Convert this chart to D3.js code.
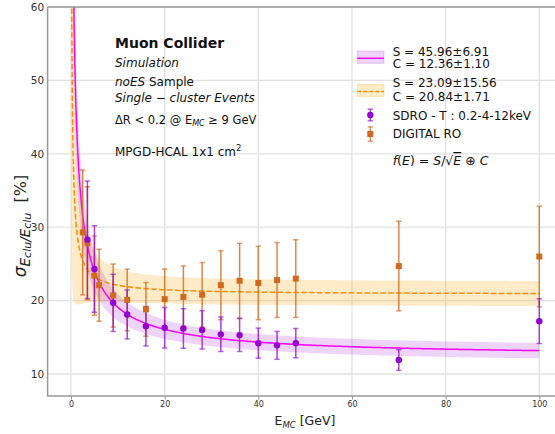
<!DOCTYPE html>
<html>
<head>
<meta charset="utf-8">
<script src="https://cdn.jsdelivr.net/npm/d3@7"></script>
<style>
body { margin: 0; background: #fff; }
text { font-family: "DejaVu Sans", sans-serif; }
</style>
</head>
<body>
<div id="chart-area"></div>
<script>
// SDRO - T (purple points)
var sdroEnergy = [3.5, 5, 9, 12, 16, 20, 24, 28, 32, 36, 40, 44, 48, 70, 100];
var sdroRes    = [28.3, 24.3, 19.7, 18.1, 16.5, 16.3, 16.2, 16.0, 15.4, 15.3, 14.2, 13.9, 14.2, 11.9, 17.2];
var sdroErr    = [8.0, 5.9, 3.9, 3.35, 2.7, 2.75, 2.7, 2.6, 2.35, 2.25, 2.05, 1.9, 2.0, 1.4, 3.05];

// DIGITAL RO (orange squares)
var digEnergy = [2.5, 3.5, 5, 6, 9, 12, 16, 20, 24, 28, 32, 36, 40, 44, 48, 70, 100];
var digRes    = [29.3, 27.8, 23.4, 22.1, 20.7, 20.1, 18.8, 20.2, 20.5, 20.8, 22.1, 22.7, 22.4, 22.8, 23.0, 24.7, 26.0];
var digErr    = [8.5, 7.7, 5.4, 4.9, 4.3, 4.2, 3.65, 4.1, 4.2, 4.4, 4.7, 5.1, 5.0, 5.1, 5.3, 6.1, 6.85];

// fit results  f(E) = S/sqrt(E) (+) C   [sdro, digital]
var fitS    = [45.96, 23.09];
var fitSErr = [6.91, 15.56];
var fitC    = [12.36, 20.84];
var fitCErr = [1.10, 1.71];

var xTicks = [0, 20, 40, 60, 80, 100];
var yTicks = [10, 20, 30, 40, 50, 60];

var svg = d3.select("#chart-area")
    .append("svg")
    .attr("width", 555)
    .attr("height", 434);

var pLeft = 47.6, pRight = 562.7, pTop = 7, pBottom = 396;

var x = d3.scaleLinear().domain([-5, 105]).range([pLeft, pRight]);
var y = d3.scaleLinear().domain([7, 60]).range([pBottom, pTop]);

svg.append("clipPath").attr("id", "plotclip")
    .append("rect")
    .attr("x", pLeft).attr("y", pTop)
    .attr("width", pRight - pLeft).attr("height", pBottom - pTop);

// grid
var grid = svg.append("g");
grid.selectAll(".vg").data(xTicks).enter().append("line")
    .attr("x1", d => x(d)).attr("x2", d => x(d))
    .attr("y1", pTop).attr("y2", pBottom)
    .attr("stroke", "#e1e1e1").attr("stroke-width", 1.3);
grid.selectAll(".hg").data(yTicks).enter().append("line")
    .attr("x1", pLeft).attr("x2", pRight)
    .attr("y1", d => y(d)).attr("y2", d => y(d))
    .attr("stroke", "#e1e1e1").attr("stroke-width", 1.3);

// fit curves + bands
function fitVal(E, S, C) { return Math.sqrt(S * S / E + C * C); }
function fitErr(E, S, dS, C, dC) {
    return Math.sqrt(Math.pow(S * dS / E, 2) + Math.pow(C * dC, 2)) / fitVal(E, S, C);
}
var fitE = d3.range(0.1, 5, 0.02).concat(d3.range(5, 100.01, 0.5));

var plot = svg.append("g").attr("clip-path", "url(#plotclip)");

var bandColor = ["#9400d3", "#ffa500"];
var bandAlpha = [0.17, 0.22];
var lineColor = ["#ff00ff", "#ff8c00"];

[1, 0].forEach(function(k) {
    var pts = fitE.map(function(E) {
        return { E: E, f: fitVal(E, fitS[k], fitC[k]), df: fitErr(E, fitS[k], fitSErr[k], fitC[k], fitCErr[k]) };
    });
    plot.append("path")
        .datum(pts)
        .attr("d", d3.area()
            .x(d => x(d.E))
            .y0(d => Math.min(2000, y(d.f - d.df)))
            .y1(d => Math.max(-2000, y(d.f + d.df))))
        .attr("fill", bandColor[k])
        .attr("fill-opacity", bandAlpha[k]);
});
[1, 0].forEach(function(k) {
    var pts = fitE.map(function(E) { return { E: E, f: fitVal(E, fitS[k], fitC[k]) }; });
    plot.append("path")
        .datum(pts)
        .attr("d", d3.line().x(d => x(d.E)).y(d => Math.max(-2000, y(d.f))))
        .attr("fill", "none")
        .attr("stroke", lineColor[k])
        .attr("stroke-width", 1.5)
        .attr("stroke-dasharray", k == 1 ? "5.5,2.4" : null);
});

// error bars
function errorBars(en, val, err, color, op) {
    var g = plot.append("g");
    en.forEach(function(E, i) {
        var cx = x(E);
        g.append("line").attr("x1", cx).attr("x2", cx)
            .attr("y1", y(val[i] - err[i])).attr("y2", y(val[i] + err[i]))
            .attr("stroke", color).attr("stroke-opacity", op).attr("stroke-width", 1.5);
        [val[i] - err[i], val[i] + err[i]].forEach(function(v) {
            g.append("line").attr("x1", cx - 2.7).attr("x2", cx + 2.7)
                .attr("y1", y(v)).attr("y2", y(v))
                .attr("stroke", color).attr("stroke-opacity", op * 0.8).attr("stroke-width", 1.5);
        });
    });
}
errorBars(digEnergy, digRes, digErr, "#d2691e", 0.8);
errorBars(sdroEnergy, sdroRes, sdroErr, "#9400d3", 0.75);

plot.selectAll(".sq").data(digEnergy).enter().append("rect")
    .attr("x", d => x(d) - 3).attr("y", (d, i) => y(digRes[i]) - 3)
    .attr("width", 6).attr("height", 6)
    .attr("fill", "#d2691e");
plot.selectAll(".ci").data(sdroEnergy).enter().append("circle")
    .attr("cx", d => x(d)).attr("cy", (d, i) => y(sdroRes[i]))
    .attr("r", 3.2)
    .attr("fill", "#9400d3");

// axes
var xAxisCall = d3.axisBottom(x).tickValues(xTicks).tickSize(3.5).tickPadding(2);
var xg = svg.append("g").attr("transform", "translate(0," + pBottom + ")").call(xAxisCall);
xg.select(".domain").remove();
xg.selectAll("line").attr("stroke", "#999");
xg.selectAll("text").attr("font-size", "8px").attr("fill", "#333").attr("font-family", "DejaVu Sans");

var yAxisCall = d3.axisLeft(y).tickValues(yTicks).tickSize(0).tickPadding(3.5);
var yg = svg.append("g").attr("transform", "translate(" + pLeft + ",0)").call(yAxisCall);
yg.select(".domain").remove();
yg.selectAll("text").attr("font-size", "10.5px").attr("fill", "#333").attr("font-family", "DejaVu Sans");

// spines
svg.append("path")
    .attr("d", "M" + pLeft + "," + pTop + "V" + pBottom + "H" + pRight + "M" + pLeft + "," + pTop + "H" + pRight)
    .attr("fill", "none").attr("stroke", "#999").attr("stroke-width", 1.5);

// axis labels
var xl = svg.append("text").attr("x", 305).attr("y", 425)
    .attr("text-anchor", "middle").attr("font-size", "12.5px").attr("fill", "#222");
xl.append("tspan").text("E");
xl.append("tspan").attr("font-size", "8.5px").attr("font-style", "italic").attr("dy", 2.5).text("MC");
xl.append("tspan").attr("dy", -2.5).text("\u00a0[GeV]");

var yl = svg.append("text").attr("transform", "translate(26,226) rotate(-90)")
    .attr("text-anchor", "middle").attr("font-size", "16px").attr("fill", "#222");
yl.append("tspan").attr("font-style", "italic").attr("font-size", "17px").text("σ");
yl.append("tspan").attr("font-style", "italic").attr("font-size", "13.5px").attr("dy", 3.5).text("E");
yl.append("tspan").attr("font-style", "italic").attr("font-size", "11px").attr("dy", 1).text("clu");
yl.append("tspan").attr("font-style", "italic").attr("font-size", "13.5px").attr("dy", -1).text("/E");
yl.append("tspan").attr("font-style", "italic").attr("font-size", "11px").attr("dy", 1).text("clu");
yl.append("tspan").attr("dy", -4.5).text("\u00a0\u00a0[%]");

// annotation block
var tx = 115;
svg.append("text").attr("x", tx).attr("y", 48).attr("font-size", "14px")
    .attr("font-weight", "bold").attr("fill", "#111").text("Muon Collider");
svg.append("text").attr("x", tx).attr("y", 67).attr("font-size", "12px")
    .attr("font-style", "italic").attr("fill", "#111").text("Simulation");
var t3 = svg.append("text").attr("x", tx).attr("y", 86).attr("font-size", "12px").attr("fill", "#111");
t3.append("tspan").attr("font-style", "italic").text("noES");
t3.append("tspan").text("\u00a0Sample");
svg.append("text").attr("x", tx).attr("y", 102).attr("font-size", "12px")
    .attr("font-style", "italic").attr("fill", "#111").text("Single \u2212 cluster Events");
var t5 = svg.append("text").attr("x", tx).attr("y", 123.5).attr("font-size", "11.5px").attr("fill", "#111");
t5.append("tspan").text("\u0394R < 0.2 @ E");
t5.append("tspan").attr("font-size", "8px").attr("font-style", "italic").attr("dy", 2).text("MC");
t5.append("tspan").attr("dy", -2).text("\u00a0\u2265 9 GeV");
var t6 = svg.append("text").attr("x", tx).attr("y", 156).attr("font-size", "12px").attr("fill", "#111");
t6.append("tspan").text("MPGD-HCAL 1x1 cm");
t6.append("tspan").attr("font-size", "8.5px").attr("dy", -5).text("2");

// legend
var lg = svg.append("g");
var lx0 = 357.3, lx1 = 384, ltx = 392.7;
var patchY = [51, 84.3];
[0, 1].forEach(function(k) {
    lg.append("rect").attr("x", lx0).attr("y", patchY[k])
        .attr("width", lx1 - lx0).attr("height", 12.3)
        .attr("fill", bandColor[k]).attr("fill-opacity", bandAlpha[k])
        .attr("stroke", bandColor[k]).attr("stroke-opacity", bandAlpha[k]);
    lg.append("line").attr("x1", lx0).attr("x2", lx1)
        .attr("y1", patchY[k] + 7.3).attr("y2", patchY[k] + 7.3)
        .attr("stroke", lineColor[k]).attr("stroke-width", 1.5)
        .attr("stroke-dasharray", k == 1 ? "4,2" : null);
});
var legText = [
    ["S = " + fitS[0].toFixed(2) + "\u00b1" + fitSErr[0].toFixed(2), 55.7],
    ["C = " + fitC[0].toFixed(2) + "\u00b1" + fitCErr[0].toFixed(2), 68.3],
    ["S = " + fitS[1].toFixed(2) + "\u00b1" + fitSErr[1].toFixed(2), 87.3],
    ["C = " + fitC[1].toFixed(2) + "\u00b1" + fitCErr[1].toFixed(2), 100.7],
    ["SDRO - T : 0.2-4-12keV", 119.5],
    ["DIGITAL RO", 137.5]
];
legText.forEach(function(t) {
    lg.append("text").attr("x", ltx).attr("y", t[1]).attr("font-size", "12px")
        .attr("fill", "#111").text(t[0]);
});
// legend markers
var mx = 370.3;
[[115, "#9400d3", 5.8], [134, "#d2691e", 7.2]].forEach(function(m, i) {
    lg.append("line").attr("x1", mx).attr("x2", mx).attr("y1", m[0] - m[2]).attr("y2", m[0] + m[2])
        .attr("stroke", m[1]).attr("stroke-opacity", 0.75).attr("stroke-width", 1.5);
    [-1, 1].forEach(function(s) {
        lg.append("line").attr("x1", mx - 2.7).attr("x2", mx + 2.7)
            .attr("y1", m[0] + s * m[2]).attr("y2", m[0] + s * m[2])
            .attr("stroke", m[1]).attr("stroke-opacity", 0.6).attr("stroke-width", 1.5);
    });
    if (i == 0) lg.append("circle").attr("cx", mx).attr("cy", m[0]).attr("r", 3.2).attr("fill", m[1]);
    else lg.append("rect").attr("x", mx - 3).attr("y", m[0] - 3).attr("width", 6).attr("height", 6).attr("fill", m[1]);
});

// formula
var fm = svg.append("text").attr("x", ltx).attr("y", 165).attr("font-size", "12.5px").attr("fill", "#111");
fm.append("tspan").attr("font-style", "italic").text("f");
fm.append("tspan").text("(");
fm.append("tspan").attr("font-style", "italic").text("E");
fm.append("tspan").text(") = ");
fm.append("tspan").attr("font-style", "italic").text("S");
fm.append("tspan").text("/\u221a");
fm.append("tspan").attr("font-style", "italic").attr("text-decoration", "overline").text("E");
fm.append("tspan").text(" \u2295 ");
fm.append("tspan").attr("font-style", "italic").text("C");
</script>
</body>
</html>
